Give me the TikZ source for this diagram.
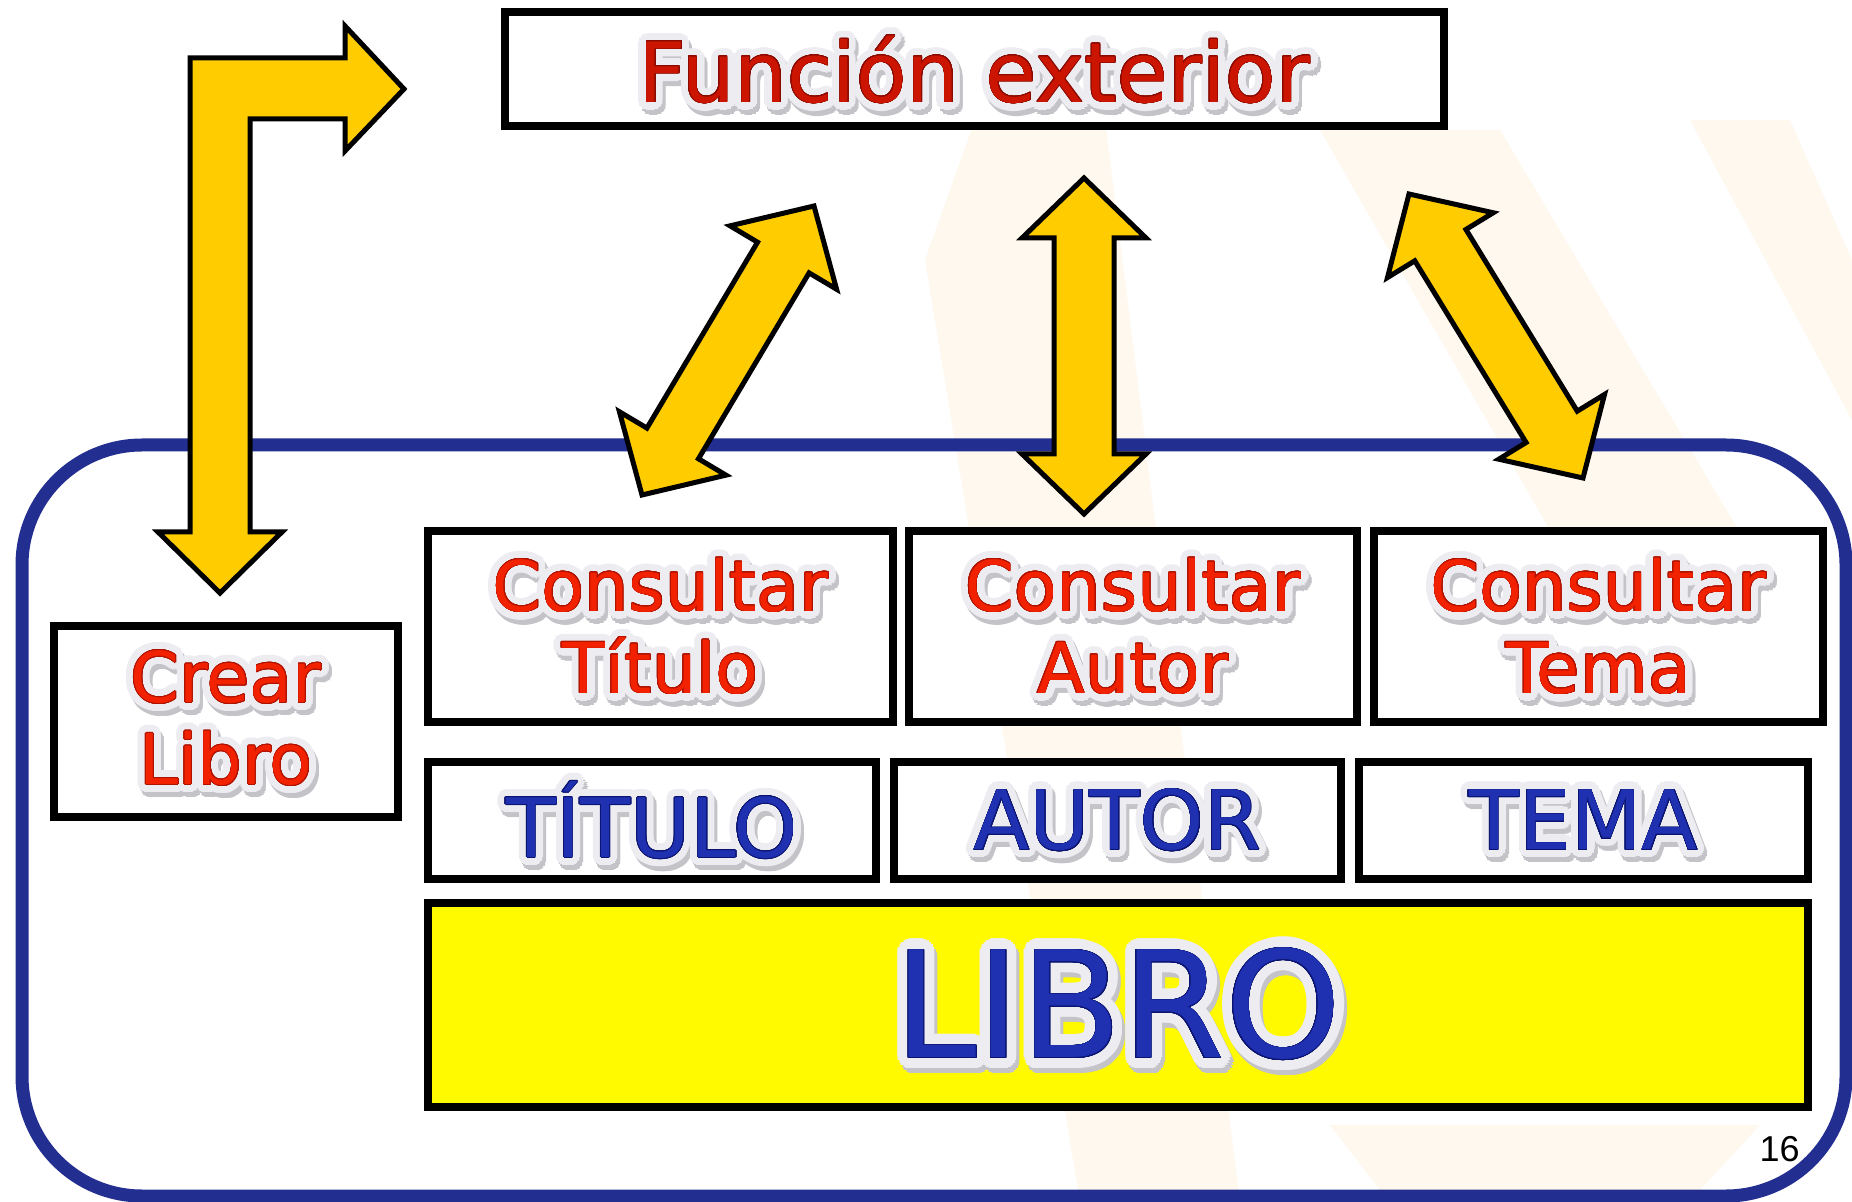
\documentclass[tikz,border=0pt]{standalone}
\usepackage{fontspec}
\setmainfont{DejaVu Sans}
\newfontfamily\numfont{Liberation Sans}
\usepackage[copies]{contour}
\usetikzlibrary{calc}
\definecolor{bluebord}{HTML}{232E91}
\definecolor{arrowy}{HTML}{FFCC00}
\definecolor{txtred}{HTML}{F22200}
\definecolor{txtredd}{HTML}{B01200}
\definecolor{funred}{HTML}{CC1500}
\definecolor{funredd}{HTML}{8A0A00}
\definecolor{txtblue}{HTML}{1F30B0}
\definecolor{txtblued}{HTML}{0A1470}
\definecolor{outc}{HTML}{ECECF1}
\definecolor{shadc}{HTML}{C4C4C8}
\definecolor{libroy}{HTML}{FFFA00}
\definecolor{cream}{HTML}{FEF8EE}
\contournumber{24}
\newcommand\fxt[4]{%
\begingroup
\makebox[0pt][l]{\hspace*{1.5pt}\raisebox{-2.5pt}{\contourlength{#1}\color{shadc}\contour{shadc}{#4}}}%
\makebox[0pt][l]{\contourlength{#1}\color{outc}\contour{outc}{#4}}%
\contourlength{0.3pt}\color{#2}\contour{#3}{#4}%
\endgroup}
\newcommand\dblarr[2]{%
\coordinate (#1-h) at ($(#1)!30pt!(#2)$);
\coordinate (#2-h) at ($(#2)!30pt!(#1)$);
\draw[arr] (#1) -- ($(#1-h)!31pt!90:(#2)$) -- ($(#1-h)!15pt!90:(#2)$)
 -- ($(#2-h)!15pt!-90:(#1)$) -- ($(#2-h)!31pt!-90:(#1)$) -- (#2)
 -- ($(#2-h)!31pt!90:(#1)$) -- ($(#2-h)!15pt!90:(#1)$)
 -- ($(#1-h)!15pt!-90:(#2)$) -- ($(#1-h)!31pt!-90:(#2)$) -- cycle;}
\tikzset{
 box/.style={draw=black, line width=4pt, fill=white, inner sep=0pt, outer sep=0pt},
 arr/.style={fill=arrowy, draw=black, line width=2.5pt, line join=miter},
 redtxt/.style={font=\fontsize{35}{41}\selectfont, align=center, inner sep=0pt},
 captxt/.style={font=\fontsize{41}{45}\selectfont, align=center, inner sep=0pt},
 ray/.style={fill=cream, draw=none}
}
\begin{document}
\begin{tikzpicture}[x=0.5pt, y=-0.5pt]
\useasboundingbox (0,0) rectangle (1852,1202);
\fill[white] (0,0) rectangle (1852,1202);

% faint background rays
\fill[ray] (975,120) -- (1105,120) -- (1240,1202) -- (1080,1202) -- (925,260) -- cycle;
\fill[ray] (1320,130) -- (1500,130) -- (1780,600) -- (1590,600) -- cycle;
\fill[ray] (1690,120) -- (1790,120) -- (1852,260) -- (1852,420) -- cycle;
\fill[ray] (1330,1125) -- (1760,1125) -- (1700,1190) -- (1380,1190) -- cycle;

% outer system frame
\node[draw=bluebord, line width=6.5pt, rounded corners=60pt, minimum width=912pt, minimum height=375.5pt, inner sep=0pt] (sys) at (934,820.5) {};

% boxes
\node[box, minimum width=469.5pt, minimum height=57pt] (fun) at (974.5,69) {};
\node[box, minimum width=172pt, minimum height=95.5pt] (crear) at (226,721.5) {};
\node[box, minimum width=232.5pt, minimum height=95.5pt] (ct) at (660.5,626.5) {};
\node[box, minimum width=224pt, minimum height=95.5pt] (ca) at (1133,626.5) {};
\node[box, minimum width=224.5pt, minimum height=95.5pt] (cm) at (1598.5,626.5) {};
\node[box, minimum width=224pt, minimum height=58.5pt] (t) at (652,820.5) {};
\node[box, minimum width=223.5pt, minimum height=58.5pt] (a) at (1117.5,820.5) {};
\node[box, minimum width=224.5pt, minimum height=58.5pt] (m) at (1583.5,820.5) {};
\node[box, fill=libroy, minimum width=690pt, minimum height=102pt] (libro) at (1118,1005) {};

% texts
\node[inner sep=0pt, font=\fontsize{41.5}{45}\selectfont] (fun-txt) at ($(fun)+(0,7)$) {\fxt{4pt}{funred}{funredd}{Función exterior}};
\node[redtxt] (crear-txt) at ($(crear)+(0,3)$) {\fxt{4pt}{txtred}{txtredd}{Crear}\\\fxt{4pt}{txtred}{txtredd}{Libro}};
\node[redtxt] (ct-txt) at ($(ct)+(0,6)$) {\fxt{4pt}{txtred}{txtredd}{Consultar}\\\fxt{4pt}{txtred}{txtredd}{Título}};
\node[redtxt] (ca-txt) at ($(ca)+(0,6)$) {\fxt{4pt}{txtred}{txtredd}{Consultar}\\\fxt{4pt}{txtred}{txtredd}{Autor}};
\node[redtxt] (cm-txt) at ($(cm)+(0,6)$) {\fxt{4pt}{txtred}{txtredd}{Consultar}\\\fxt{4pt}{txtred}{txtredd}{Tema}};
\node[captxt] (t-txt) at ($(t)+(0,6)$) {\fxt{4pt}{txtblue}{txtblued}{TÍTULO}};
\node[captxt] (a-txt) at ($(a)+(0,6)$) {\fxt{4pt}{txtblue}{txtblued}{AUTOR}};
\node[captxt] (m-txt) at ($(m)+(0,6)$) {\fxt{4pt}{txtblue}{txtblued}{TEMA}};
\node[inner sep=0pt, font=\fontsize{74}{78}\selectfont] (libro-txt) at ($(libro)+(0,7)$) {\fxt{5.5pt}{txtblue}{txtblued}{LIBRO}};

\node[anchor=base east, font=\numfont\fontsize{18}{20}\selectfont, inner sep=0pt] (pg) at (1800,1161) {16};

% L-shaped arrow
\coordinate (lr) at (404,89);
\coordinate (ld) at (220,593);
\draw[arr] (190,58) -- (345,58) -- (345,26) -- (lr) -- (345,151) -- (345,119)
 -- (250,119) -- (250,532) -- (282,532) -- (ld) -- (158,532) -- (190,532) -- cycle;

% double arrows
\coordinate (a2s) at (642,495);
\coordinate (a2e) at (814,206);
\coordinate (a3s) at (1084,514);
\coordinate (a3e) at (1084,178);
\coordinate (a4s) at (1583,478);
\coordinate (a4e) at (1409,194);
\dblarr{a2s}{a2e}
\dblarr{a3s}{a3e}
\dblarr{a4s}{a4e}
\end{tikzpicture}
\end{document}
